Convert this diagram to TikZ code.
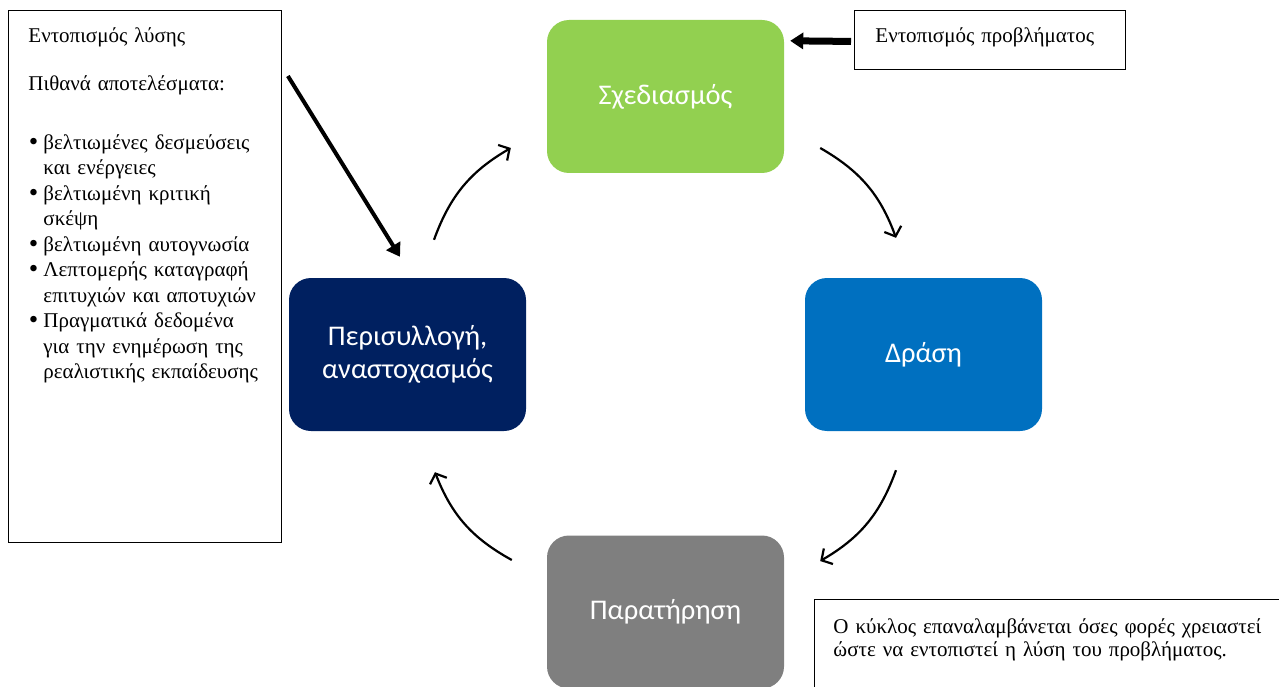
\documentclass[tikz,border=0pt]{standalone}
\usepackage{fontspec}
\setmainfont{Liberation Serif}
\newfontfamily\stagefont{Carlito}
\usetikzlibrary{arrows.meta,calc}

\definecolor{planGreen}{HTML}{92D050}
\definecolor{actBlue}{HTML}{0070C0}
\definecolor{observeGray}{HTML}{7F7F7F}
\definecolor{reflectNavy}{HTML}{002060}

\newcommand{\outbullet}{{\fontsize{27}{0}\selectfont\raisebox{-1pt}{\textbullet}}}

\begin{document}
\begin{tikzpicture}[x=1pt,y=-1pt,
  stage/.style={rounded corners=22pt,minimum width=237pt,minimum height=153pt,align=center,text=white,font=\stagefont\fontsize{28.5}{33}\selectfont},
  note/.style={draw,line width=0.9pt,anchor=north west,align=left,inner ysep=12pt,font=\fontsize{21}{25.5}\selectfont},
  cyc/.style={-{Straight Barb[length=8pt,width=18pt]},line width=2.2pt,bend left=20},
  bold/.style={-{Triangle[length=13pt,width=16pt]}}]
\useasboundingbox (0,0) rectangle (1279,687);
% the four stages of the cycle
\node[stage,fill=planGreen] (plan) at (665.5,96.5) {Σχεδιασμός};
\node[stage,fill=actBlue] (act) at (923.5,354.5) {Δράση};
\node[stage,fill=observeGray] (observe) at (665.5,612) {Παρατήρηση};
\node[stage,fill=reflectNavy] (reflect) at (407.5,354.5) {Περισυλλογή,\\αναστοχασμός};
% text boxes
\node[note,inner xsep=20pt,text width=233pt,text height=20pt,text depth=488pt] (solution) at (8,10) {%
Εντοπισμός λύσης\\[22.5pt]
Πιθανά αποτελέσματα:\par\vspace{31.5pt}
\begin{list}{\outbullet}{\setlength{\leftmargin}{15pt}\setlength{\labelwidth}{10pt}\setlength{\labelsep}{5pt}\setlength{\itemsep}{0pt}\setlength{\parsep}{0pt}\setlength{\topsep}{0pt}}
\item βελτιωμένες δεσμεύσεις\\και ενέργειες
\item βελτιωμένη κριτική\\σκέψη
\item βελτιωμένη αυτογνωσία
\item Λεπτομερής καταγραφή\\επιτυχιών και αποτυχιών
\item Πραγματικά δεδομένα\\για την ενημέρωση της\\ρεαλιστικής εκπαίδευσης
\end{list}};
\node[note,inner xsep=21pt,text width=229pt,text height=20pt,text depth=15pt] (problem) at (854,10) {Εντοπισμός προβλήματος};
\node[note,inner xsep=19pt,text width=440pt,text height=22pt,text depth=80pt,font=\fontsize{21}{23}\selectfont] (repeat) at (814,599)
  {Ο κύκλος επαναλαμβάνεται όσες φορές χρειαστεί\\ώστε να εντοπιστεί η λύση του προβλήματος.};
% cycle arrows
\draw[cyc] ($(reflect.north)+(26.5,-38)$) to ($(plan.west)+(-36,51.5)$);
\draw[cyc] ($(plan.east)+(36,51.5)$) to ($(act.north)+(-27.5,-40)$);
\draw[cyc] ($(act.south)+(-27.5,39)$) to ($(observe.east)+(36,-51)$);
\draw[cyc] ($(observe.west)+(-35,-52)$) to ($(reflect.south)+(27.5,41)$);
% input arrows
\draw[bold,line width=4pt] ($(solution.north east)+(6,66)$) -- ($(reflect.north)+(-7.5,-21)$);
\draw[bold,line width=7pt] ($(problem.west)+(-3,1.5)$) -- ($(plan.north east)+(6,21)$);
\end{tikzpicture}
\end{document}
